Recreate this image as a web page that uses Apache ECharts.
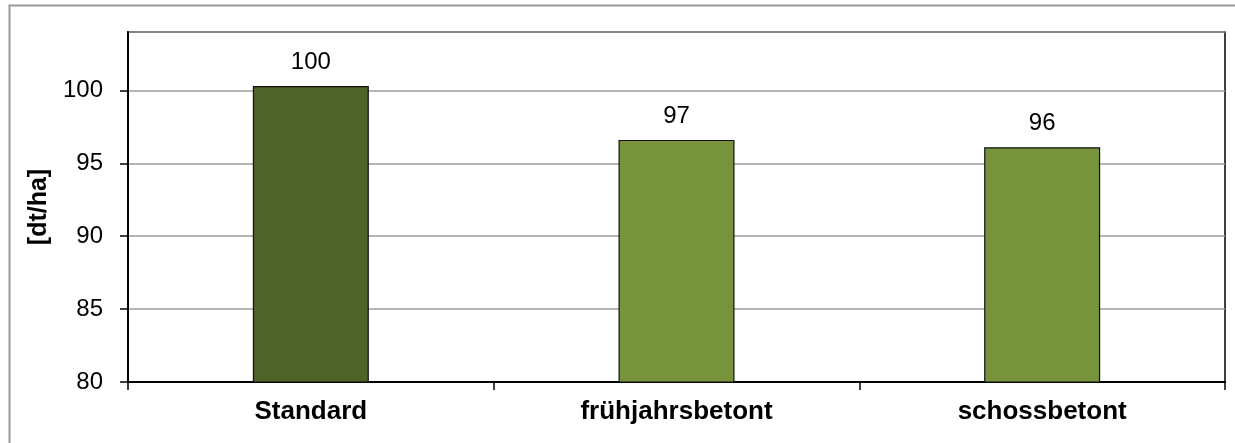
<!DOCTYPE html>
<html>
<head>
<meta charset="utf-8">
<script src="https://cdn.jsdelivr.net/npm/echarts@6/dist/echarts.min.js"></script>
<style>html,body{margin:0;padding:0;background:#fff;}#c{width:1235px;height:443px;}</style>
</head>
<body>
<div id="c"></div>
<script>
const categories = ['Standard', 'frühjahrsbetont', 'schossbetont'];
const values = [100.3, 96.6, 96.1];
const barColors = ['#4F6228', '#77933C', '#77933C'];
const yTicks = { min: 80, max: 104, interval: 5 };

const chart = echarts.init(document.getElementById('c'));
chart.setOption({
  animation: false,
  backgroundColor: '#fff',
  graphic: [{
    type: 'rect', left: 7, top: 3, shape: { width: 1300, height: 500 },
    style: { fill: 'none', stroke: '#9a9a9a', lineWidth: 2 }, silent: true, z: -1
  }],
  grid: { left: 128, top: 32, right: 10, bottom: 61, show: true, borderColor: '#000', borderWidth: 1.5, backgroundColor: 'transparent' },
  xAxis: {
    type: 'category', data: categories,
    axisLine: { lineStyle: { color: '#000', width: 2 } },
    axisTick: { show: true, alignWithLabel: false, length: 8, lineStyle: { color: '#000', width: 1.5 } },
    axisLabel: { fontFamily: 'Liberation Sans', fontWeight: 'bold', fontSize: 26, color: '#000', margin: 17 }
  },
  yAxis: {
    type: 'value', min: yTicks.min, max: yTicks.max, interval: yTicks.interval,
    name: '[dt/ha]', nameLocation: 'middle', nameGap: 73, nameRotate: 90,
    nameTextStyle: { fontFamily: 'Liberation Sans', fontWeight: 'bold', fontSize: 25, color: '#000' },
    axisLine: { show: true, lineStyle: { color: '#000', width: 2 } },
    axisTick: { show: true, length: 8, lineStyle: { color: '#000', width: 1.5 } },
    axisLabel: { fontFamily: 'Liberation Sans', fontSize: 24, color: '#000', margin: 25,
      showMaxLabel: false },
    splitLine: { show: true, lineStyle: { color: '#9d9d9d', width: 1.5 } }
  },
  series: [{
    type: 'bar', barWidth: 116,
    data: values.map((v, i) => ({ value: v, itemStyle: { color: barColors[i] } })),
    itemStyle: { borderColor: '#111', borderWidth: 1.2 },
    label: { show: true, position: 'top', distance: 12, fontFamily: 'Liberation Sans', fontSize: 24, color: '#000',
      formatter: p => Math.round(p.value) }
  }]
});
</script>
</body>
</html>
